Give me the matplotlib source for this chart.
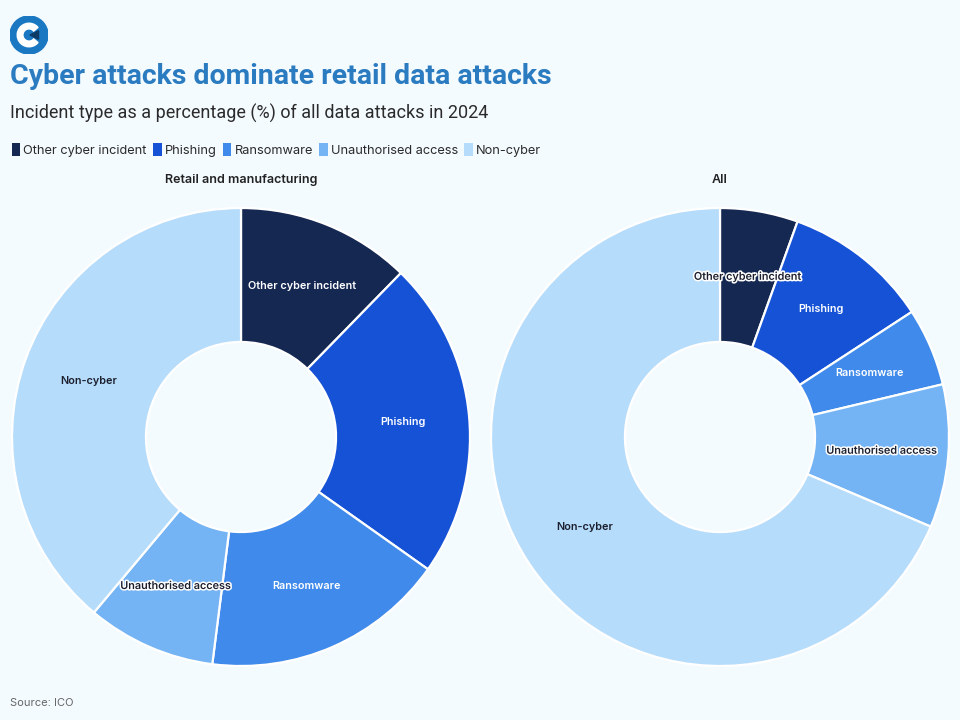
import numpy as np
import matplotlib
matplotlib.use("Agg")
import matplotlib.pyplot as plt
import matplotlib.patheffects as pe
from matplotlib.patches import Patch, Circle, Wedge, Polygon

BG = "#f4fbff"
plt.rcParams.update({"font.family": ["Inter", "DejaVu Sans"]})

categories = ["Other cyber incident", "Phishing", "Ransomware", "Unauthorised access", "Non-cyber"]
colors = ["#152852", "#1552d6", "#3f8aea", "#74b4f5", "#b6dcfb"]
retail = [12.3, 22.5, 17.2, 9.1, 38.9]
all_sectors = [5.5, 10.3, 5.5, 10.1, 68.6]

fig = plt.figure(figsize=(9.6, 7.2), dpi=100, facecolor=BG)
W, H = 960, 720

def donut(cx, cy, vals, title, dark_first=False):
    r = 229
    ax = fig.add_axes([(cx - r) / W, (H - cy - r) / H, 2 * r / W, 2 * r / H])
    ax.set_facecolor(BG)
    ax.pie(vals, colors=colors, startangle=90, counterclock=False, radius=1,
           wedgeprops=dict(width=0.585, edgecolor="white", linewidth=1.6))
    ax.set_xlim(-1.0, 1.0); ax.set_ylim(-1.0, 1.0); ax.axis("off")
    lc = ["white", "white", "white", "#1b1f2e", "#1b1f2e"]
    if dark_first:
        lc[0] = "#1b1f2e"
    tot = sum(vals); cum = 0
    for i, (v, name) in enumerate(zip(vals, categories)):
        mid = 90 - 360 * (cum + v / 2) / tot
        cum += v
        x, y = 0.71 * np.cos(np.radians(mid)), 0.71 * np.sin(np.radians(mid))
        t = ax.text(x, y, name, ha="center", va="center", fontsize=7.8,
                    fontweight="semibold", color=lc[i])
        # labels that spill over the slice edge get a white halo
        if i == 3 or (dark_first and i == 0):
            t.set_path_effects([pe.withStroke(linewidth=2.2, foreground="white")])
    fig.text(cx / W, 1 - 180 / H, title, ha="center", va="center", fontsize=9,
             fontweight="semibold", color="#222222")

donut(241, 437, retail, "Retail and manufacturing")
donut(720, 437, all_sectors, "All", dark_first=True)

# logo
lax = fig.add_axes([10 / W, 1 - 54 / H, 38 / W, 38 / H])
lax.set_xlim(-1, 1); lax.set_ylim(-1, 1); lax.axis("off")
lax.add_patch(Circle((0, 0), 1, color="#1a78c2"))
lax.add_patch(Wedge((0, 0), 0.62, 40, 320, width=0.3, color="white"))
lax.add_patch(Polygon([[0.05, 0.0], [0.5, 0.22], [0.5, -0.22]], color="#0d3b66"))

fig.text(10 / W, 1 - 77 / H, "Cyber attacks dominate retail data attacks", ha="left",
         va="center", fontsize=20.5, fontweight="bold", color="#2a7bc0", family="Roboto")
fig.text(10 / W, 1 - 113 / H, "Incident type as a percentage (%) of all data attacks in 2024",
         ha="left", va="center", fontsize=13, color="#2b2b2b", family="Roboto")

handles = [Patch(facecolor=c, edgecolor="none") for c in colors]
fig.legend(handles, categories, loc="center left", bbox_to_anchor=(3 / W, 1 - 150 / H),
           ncol=5, frameon=False, fontsize=9.2, handlelength=0.65, handleheight=1.1,
           handletextpad=0.25, columnspacing=0.5, borderpad=0.2, labelcolor="#2b2b2b")

fig.text(10 / W, 1 - 703 / H, "Source: ICO", ha="left", va="center", fontsize=8, color="#666666")

fig.savefig("out.png", dpi=100, facecolor=BG)
